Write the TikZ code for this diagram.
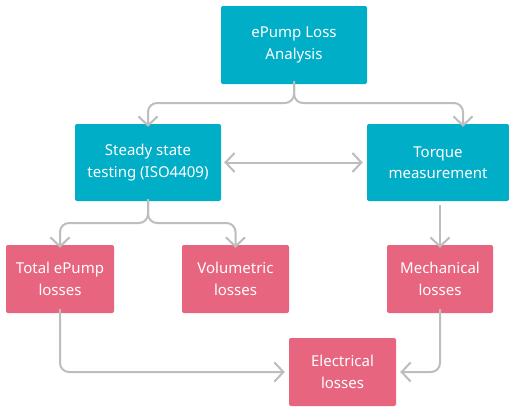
\documentclass[tikz,border=0pt]{standalone}
\usepackage{fontspec}
\setmainfont{Noto Sans}
\usetikzlibrary{arrows.meta}
\definecolor{teal}{HTML}{00AEC7}
\definecolor{pinkbox}{HTML}{E8657F}
\definecolor{arrowgrey}{HTML}{BDBDBD}
\begin{document}
\begin{tikzpicture}[x=1pt,y=-1pt,
  box/.style={rounded corners=2pt, text=white, font=\fontsize{15}{21.5}\selectfont, align=center, inner sep=0pt},
  tealbox/.style={box, fill=teal},
  pinkb/.style={box, fill=pinkbox},
  conn/.style={draw=arrowgrey, line width=2pt, rounded corners=9pt, -{Straight Barb[length=9pt,width=19pt,line width=2pt]}},
  conn2/.style={draw=arrowgrey, line width=2pt, {Straight Barb[length=9pt,width=19pt,line width=2pt]}-{Straight Barb[length=9pt,width=19pt,line width=2pt]}}]
\useasboundingbox (0,0) rectangle (509,407);
\fill[white] (0,0) rectangle (509,407);
% boxes
\node[tealbox, minimum width=146pt, minimum height=78pt] (top) at (294,45) {ePump Loss\\Analysis};
\node[tealbox, minimum width=146pt, minimum height=77pt] (steady) at (148,162.5) {Steady state\\testing (ISO4409)};
\node[tealbox, minimum width=142pt, minimum height=77pt] (torque) at (438,162.5) {Torque\\measurement};
\node[pinkb, minimum width=108pt, minimum height=68pt] (total) at (60,279) {Total ePump\\losses};
\node[pinkb, minimum width=107pt, minimum height=68pt] (vol) at (235.5,279) {Volumetric\\losses};
\node[pinkb, minimum width=106pt, minimum height=68pt] (mech) at (440,279) {Mechanical\\losses};
\node[pinkb, minimum width=107pt, minimum height=68pt] (elec) at (342.5,372) {Electrical\\losses};
% coordinates
\coordinate (tsplit) at (294,103);
\coordinate (ssplit) at (148,223);
\coordinate (tm) at (440,205);
% connectors
\draw[conn] ([yshift=3pt]top.south) |- (tsplit) -| ([yshift=-3pt]steady.north);
\draw[conn] ([yshift=3pt]top.south) |- (tsplit) -| ([xshift=25pt,yshift=-3pt]steady.north -| torque.north);
\draw[conn2] ([xshift=3pt]steady.east) -- ([xshift=-4pt]torque.west);
\draw[conn] ([yshift=2pt]steady.south) |- (ssplit) -| ([yshift=-3pt]total.north);
\draw[conn] ([yshift=2pt]steady.south) |- (ssplit) -| ([yshift=-3pt]vol.north);
\draw[conn] (tm) -- ([yshift=-3pt]mech.north);
\draw[conn] ([yshift=4pt]total.south) |- ([xshift=-4pt]elec.west);
\draw[conn] ([yshift=4pt]mech.south) |- ([xshift=4pt]elec.east);
\end{tikzpicture}
\end{document}
